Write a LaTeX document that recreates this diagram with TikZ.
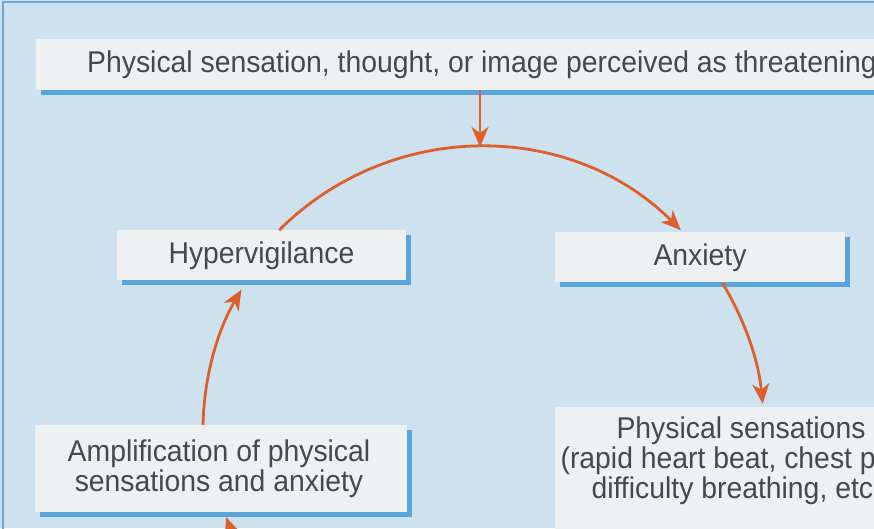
\documentclass[tikz,border=0pt]{standalone}
\usepackage{fontspec}
\setmainfont[FakeStretch=0.945]{Liberation Sans}
\usetikzlibrary{arrows.meta,shadows,calc}
\definecolor{bgblue}{HTML}{CDE2EE}
\definecolor{boxfill}{HTML}{EEF0F1}
\definecolor{shblue}{HTML}{5AA3DB}
\definecolor{frameblue}{HTML}{6AA6D8}
\definecolor{arrred}{HTML}{DD5F2C}
\definecolor{txtgray}{HTML}{45494C}
\tikzset{
  box/.style={fill=boxfill, inner sep=0pt, text=txtgray,
    general shadow={fill=shblue, shadow xshift=5pt, shadow yshift=-5pt},
    font=\fontsize{30}{30}\selectfont, text height=24pt, text depth=8pt},
  txt/.style={text=txtgray, font=\fontsize{30}{30}\selectfont, inner sep=0pt, align=center},
  arr/.style={draw=arrred, line width=2.8pt, -{Stealth[length=20pt,width=17pt,inset=6pt]}},
}
\begin{document}
\begin{tikzpicture}[x=1pt,y=1pt]
\useasboundingbox (0,0) rectangle (874,528);
\clip (0,0) rectangle (874,528);
\fill[bgblue] (0,0) rectangle (874,528);
\draw[frameblue, line width=2.5pt] (3,526) rectangle (1000,-100);

\node[box, minimum height=51pt, anchor=west] (top) at (36,463.5)
  {\makebox[894pt][l]{\hspace*{51pt}Physical sensation, thought, or image perceived as threatening}};
\node[box, minimum width=289pt, minimum height=50pt] (hyp) at (261.5,273) {Hypervigilance};
\node[box, minimum width=290pt, minimum height=50pt] (anx) at (700,271) {Anxiety};
\node[box, minimum width=372pt, minimum height=87pt] (amp) at (221,59.5) {};
\node[txt, anchor=north] (ampt) at (219,88) {Amplification of physical\\sensations and anxiety};
\node[box, minimum width=372pt, minimum height=133pt] (phys) at (741,54.5) {};
\node[txt, anchor=north] (physt) at (741,111) {Physical sensations\\(rapid heart beat, chest pain,\\difficulty breathing, etc.)};

\coordinate (O) at (480,97);
\coordinate (apex) at ($(O)+(90:284pt)$);
\draw[arr] (top.south -| apex) -- (apex);
\draw[arr] ($(O)+(135:284pt)$) arc[start angle=135, end angle=45, radius=284pt];
\draw[arr] ($(O)+(31.4:284pt)$) arc[start angle=31.4, end angle=5.5, radius=284pt];
\coordinate (G) at (203,103);
\draw[arr] (G) arc[start angle=178.8, end angle=149.5, radius=278pt];
\coordinate (S) at (320,-40);
\coordinate (H) at (226,11);
\draw[arr] (S) to[out=160, in=-70] (H);
\end{tikzpicture}
\end{document}
